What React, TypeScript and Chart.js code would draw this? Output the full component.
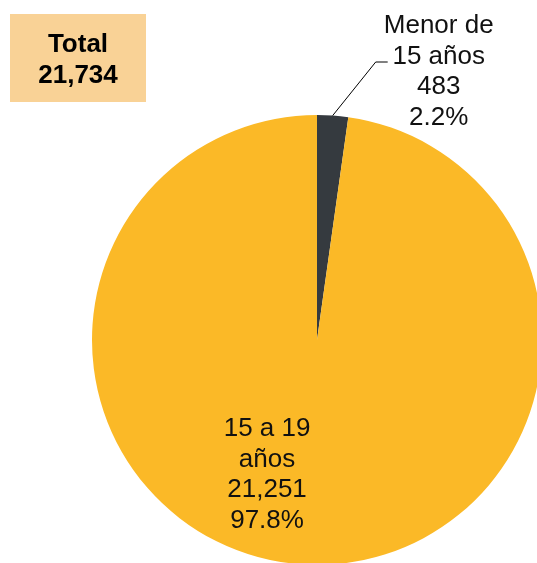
import React, { useEffect, useRef } from "react";
import { Chart, registerables } from "chart.js";

Chart.register(...registerables);

const categories = ["Menor de 15 años", "15 a 19 años"];
const labelLines = [["Menor de", "15 años"], ["15 a 19", "años"]];
const values = [483, 21251];
const percents = ["2.2%", "97.8%"];
const totalLabel = ["Total", "21,734"];
const colors = ["#353A3F", "#FBB927"];

const FONT = "'Liberation Sans', Arial, sans-serif";

const labelPlugin = {
  id: "pieLabels",
  afterDraw(chart: any) {
    const ctx = chart.ctx;
    const meta = chart.getDatasetMeta(0);
    ctx.save();
    // Total box
    ctx.fillStyle = "#F9D296";
    ctx.fillRect(10, 14, 136, 88);
    ctx.fillStyle = "#000";
    ctx.font = `bold 26px ${FONT}`;
    ctx.textAlign = "center";
    ctx.textBaseline = "middle";
    ctx.fillText(totalLabel[0], 78, 45);
    ctx.fillText(totalLabel[1], 78, 76);

    ctx.font = `26px ${FONT}`;
    ctx.fillStyle = "#111";
    const fmt = (v: number) => v.toLocaleString("en-US");
    // small slice label (outside with leader line)
    const a0 = meta.data[0];
    const mid0 = (a0.startAngle + a0.endAngle) / 2;
    const px = a0.x + Math.cos(mid0) * a0.outerRadius;
    const py = a0.y + Math.sin(mid0) * a0.outerRadius;
    const ex = px + 43;
    const ey = 62;
    ctx.strokeStyle = "#000";
    ctx.lineWidth = 1;
    ctx.beginPath();
    ctx.moveTo(px, py);
    ctx.lineTo(ex, ey);
    ctx.lineTo(ex + 12, ey);
    ctx.stroke();
    const lines0 = [...labelLines[0], fmt(values[0]), percents[0]];
    lines0.forEach((t, i) => ctx.fillText(t, ex + 63, 26 + i * 30.5));

    // big slice label (inside)
    const a1 = meta.data[1];
    const cx = a1.x - 0.222 * a1.outerRadius;
    const cy = a1.y + 0.395 * a1.outerRadius;
    const lines1 = [...labelLines[1], fmt(values[1]), percents[1]];
    lines1.forEach((t, i) => ctx.fillText(t, cx, cy + i * 30.5));
    ctx.restore();
  },
};

export default function App() {
  const ref = useRef<HTMLCanvasElement>(null);
  useEffect(() => {
    const chart = new Chart(ref.current!, {
      type: "pie",
      data: {
        labels: categories,
        datasets: [{ data: values, backgroundColor: colors, borderWidth: 0 }],
      },
      options: {
        responsive: false,
        animation: false,
        devicePixelRatio: 1,
        layout: { padding: { left: 92, top: 115, right: 18, bottom: 15 } },
        plugins: { legend: { display: false }, tooltip: { enabled: false } },
      },
      plugins: [labelPlugin],
    });
    return () => chart.destroy();
  }, []);
  return (
    <div style={{ position: "fixed", left: 0, top: 0, width: 537, height: 563, overflow: "hidden", background: "#fff" }}>
      <canvas ref={ref} width={560} height={580} style={{ position: "absolute", left: 0, top: 0 }} />
    </div>
  );
}
